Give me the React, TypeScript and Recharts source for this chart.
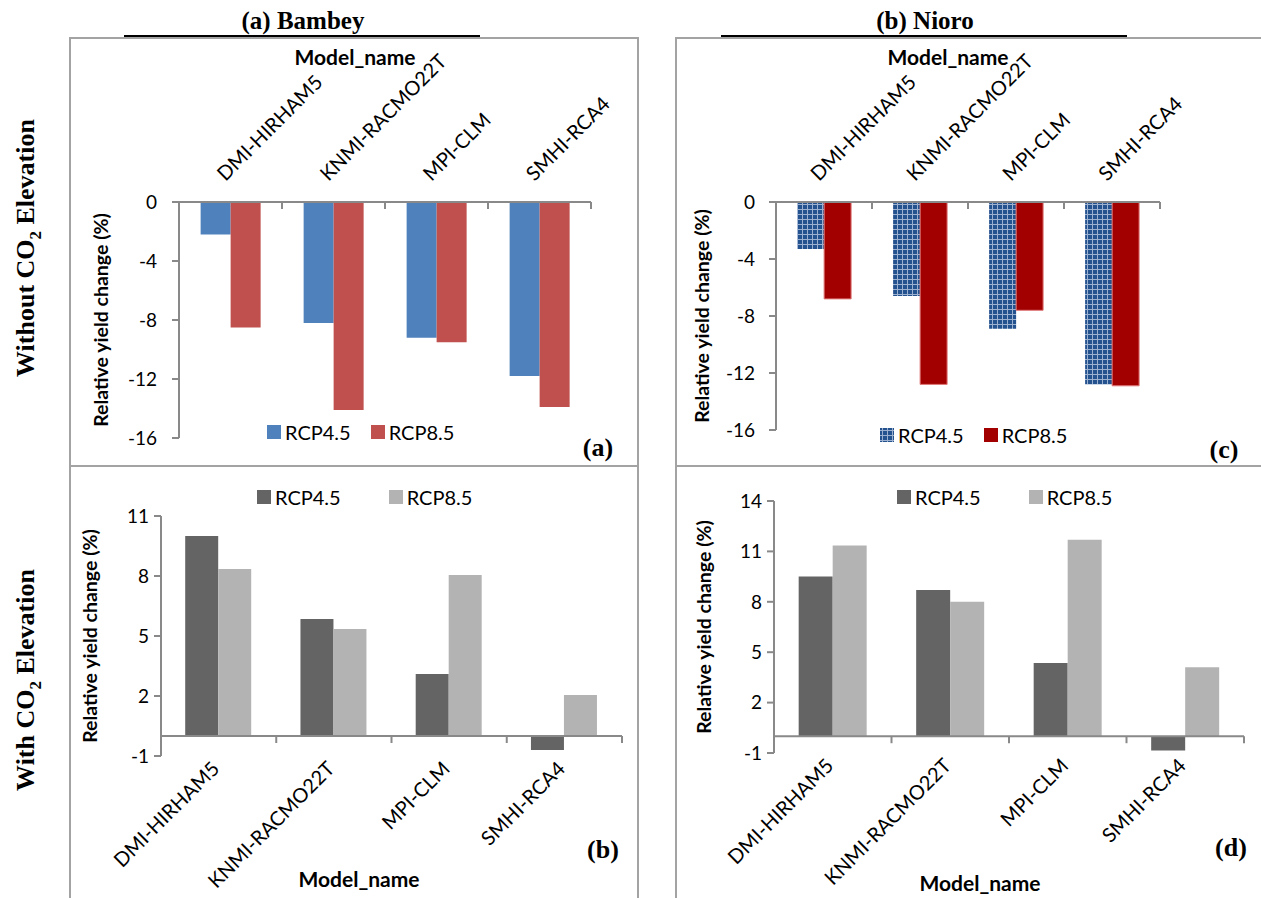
import { BarChart, Bar, XAxis, YAxis, Legend, ReferenceLine } from 'recharts';

const MODELS = ['DMI-HIRHAM5', 'KNMI-RACMO22T', 'MPI-CLM', 'SMHI-RCA4'];

// relative yield change (%), without CO2 fertilisation
const BAMBEY_NOCO2_45 = [-2.2, -8.2, -9.2, -11.8];
const BAMBEY_NOCO2_85 = [-8.5, -14.1, -9.5, -13.9];
const NIORO_NOCO2_45 = [-3.3, -6.6, -8.9, -12.8];
const NIORO_NOCO2_85 = [-6.8, -12.8, -7.6, -12.9];

// relative yield change (%), with elevated CO2
const BAMBEY_CO2_45 = [10.0, 5.85, 3.1, -0.7];
const BAMBEY_CO2_85 = [8.35, 5.35, 8.05, 2.05];
const NIORO_CO2_45 = [9.5, 8.7, 4.35, -0.85];
const NIORO_CO2_85 = [11.35, 8.0, 11.7, 4.1];

const TICKS_NOCO2 = [0, -4, -8, -12, -16];
const TICKS_BAMBEY_CO2 = [-1, 2, 5, 8, 11];
const TICKS_NIORO_CO2 = [-1, 2, 5, 8, 11, 14];

const SERIES = ['RCP4.5', 'RCP8.5'];

const AXIS = '#898989';
const BORDER = '#a3a3a3';
const SANS = 'Lato, "Open Sans", sans-serif';
const SERIF = '"Liberation Serif", "Times New Roman", serif';

type Panel = {
  id: string;
  left: number;
  top: number;
  width: number;
  height: number;
  axisW: number;
  xAxisH: number;
  side: 'top' | 'bottom';
  margin: { top: number; right: number; bottom: number; left: number };
  domain: [number, number];
  ticks: number[];
  rcp45: number[];
  rcp85: number[];
  fill45: string;
  fill85: string;
  stroke85?: string;
  catGap: string;
  tickGap: number;
  labelX: number;
  legendX: number;
  legendY: number;
  legendGap: number;
};

const PANELS: Panel[] = [
  {
    id: 'a', left: 69, top: 37, width: 568, height: 428, axisW: 110, xAxisH: 165, side: 'top',
    margin: { top: 0, right: 46, bottom: 27, left: 0 },
    domain: [-16, 0], ticks: TICKS_NOCO2, rcp45: BAMBEY_NOCO2_45, rcp85: BAMBEY_NOCO2_85,
    fill45: '#4f81bd', fill85: '#c0504d', catGap: '21%', tickGap: 15,
    labelX: 31, legendX: 198, legendY: 383, legendGap: 20,
  },
  {
    id: 'c', left: 675, top: 37, width: 586, height: 428, axisW: 101, xAxisH: 165, side: 'top',
    margin: { top: 0, right: 101, bottom: 35, left: 0 },
    domain: [-16, 0], ticks: TICKS_NOCO2, rcp45: NIORO_NOCO2_45, rcp85: NIORO_NOCO2_85,
    fill45: 'url(#weave45)', fill85: '#a20000', stroke85: '#e07a7a', catGap: '22%', tickGap: 14,
    labelX: 26, legendX: 205, legendY: 386, legendGap: 20,
  },
  {
    id: 'b', left: 69, top: 465, width: 568, height: 433, axisW: 92, xAxisH: 142, side: 'bottom',
    margin: { top: 51, right: 15, bottom: 0, left: 0 },
    domain: [-1, 11], ticks: TICKS_BAMBEY_CO2, rcp45: BAMBEY_CO2_45, rcp85: BAMBEY_CO2_85,
    fill45: '#646464', fill85: '#b3b3b3', catGap: '21%', tickGap: 5,
    labelX: 20, legendX: 188, legendY: 20, legendGap: 48,
  },
  {
    id: 'd', left: 675, top: 465, width: 586, height: 433, axisW: 99, xAxisH: 145, side: 'bottom',
    margin: { top: 36, right: 17, bottom: 0, left: 0 },
    domain: [-1, 14], ticks: TICKS_NIORO_CO2, rcp45: NIORO_CO2_45, rcp85: NIORO_CO2_85,
    fill45: '#646464', fill85: '#b3b3b3', catGap: '21%', tickGap: 5,
    labelX: 28, legendX: 222, legendY: 20, legendGap: 48,
  },
];

function geometry(p: Panel) {
  const plotW = p.width - p.margin.left - p.margin.right - p.axisW;
  const plotH = p.height - p.margin.top - p.margin.bottom - p.xAxisH;
  const plotTop = p.margin.top + (p.side === 'top' ? p.xAxisH : 0);
  const [lo, hi] = p.domain;
  return {
    band: plotW / MODELS.length,
    plotTop,
    plotH,
    plotBottom: plotTop + plotH,
    zeroY: plotTop + (hi / (hi - lo)) * plotH,
  };
}

// category labels at 45°, plus the tick mark on the right edge of each category
function makeModelTick(p: Panel) {
  const g = geometry(p);
  return (props: any) => {
    const { x, payload } = props;
    const edge = x + g.band / 2;
    const top = p.side === 'top';
    const tx = top ? x - 5 : x + 2;
    const ty = top ? g.plotTop - 20 : g.plotBottom + 14;
    return (
      <g>
        <line x1={edge} x2={edge} y1={g.zeroY} y2={g.zeroY + 7} stroke={AXIS} strokeWidth={2} />
        <text
          x={tx}
          y={ty}
          textAnchor={top ? 'start' : 'end'}
          transform={`rotate(-45 ${tx} ${ty})`}
          fontFamily={SANS}
          fontSize={20}
          fill="#000"
        >
          {payload.value}
        </text>
      </g>
    );
  };
}

function YieldPanel({ p }: { p: Panel }) {
  const g = geometry(p);
  const data = MODELS.map((model, i) => ({ model, rcp45: p.rcp45[i], rcp85: p.rcp85[i] }));
  const cy = g.plotTop + g.plotH / 2;

  return (
    <div style={{ position: 'absolute', left: p.left, top: p.top }}>
      <BarChart width={p.width} height={p.height} data={data} margin={p.margin} barGap={0} barCategoryGap={p.catGap}>
        <defs>
          <pattern id="weave45" width={5} height={5} patternUnits="userSpaceOnUse">
            <rect width={5} height={5} fill="#24528f" />
            <path d="M0 2.5H5M2.5 0V5" stroke="#9cb1d0" strokeWidth={1} />
          </pattern>
        </defs>
        <XAxis
          dataKey="model"
          orientation={p.side}
          height={p.xAxisH}
          interval={0}
          axisLine={p.side === 'top' ? { stroke: AXIS, strokeWidth: 2 } : false}
          tickLine={false}
          tick={makeModelTick(p)}
        />
        <YAxis
          type="number"
          width={p.axisW}
          domain={p.domain}
          ticks={p.ticks}
          interval={0}
          axisLine={{ stroke: AXIS, strokeWidth: 2 }}
          tickLine={{ stroke: AXIS, strokeWidth: 2 }}
          tickSize={7}
          tickMargin={p.tickGap}
          tick={{ fill: '#000', fontSize: 19, fontFamily: SANS }}
          label={{
            content: () => (
              <text
                x={p.labelX}
                y={cy}
                transform={`rotate(-90 ${p.labelX} ${cy})`}
                textAnchor="middle"
                dominantBaseline="central"
                fontFamily={SANS}
                fontWeight={700}
                fontSize={19.5}
                fill="#000"
              >
                Relative yield change (%)
              </text>
            ),
          }}
        />
        {p.side === 'bottom' && <ReferenceLine y={0} stroke={AXIS} strokeWidth={2} />}
        <Bar dataKey="rcp45" name={SERIES[0]} fill={p.fill45} isAnimationActive={false} />
        <Bar
          dataKey="rcp85"
          name={SERIES[1]}
          fill={p.fill85}
          stroke={p.stroke85 ?? 'none'}
          strokeWidth={p.stroke85 ? 1 : 0}
          isAnimationActive={false}
        />
        <Legend
          layout="horizontal"
          verticalAlign="middle"
          align="center"
          wrapperStyle={{ left: p.legendX, top: p.legendY, width: 'auto' }}
          content={({ payload }: any) => (
            <div
              style={{
                display: 'flex',
                alignItems: 'center',
                fontFamily: SANS,
                fontSize: 20,
                lineHeight: '24px',
                color: '#000',
                whiteSpace: 'nowrap',
              }}
            >
              {(payload ?? []).map((entry: any, i: number) => (
                <span
                  key={String(entry.value)}
                  style={{ display: 'inline-flex', alignItems: 'center', marginLeft: i ? p.legendGap : 0 }}
                >
                  <svg width={14} height={14} style={{ marginRight: 4 }}>
                    <rect width={14} height={14} fill={i ? p.fill85 : p.fill45} />
                  </svg>
                  {entry.value}
                </span>
              ))}
            </div>
          )}
        />
      </BarChart>
    </div>
  );
}

function Caption({
  x, y, children, font = SANS, size = 18, rotate = 0,
}: {
  x: number; y: number; children: React.ReactNode; font?: string; size?: number; rotate?: number;
}) {
  return (
    <div
      style={{
        position: 'absolute',
        left: x,
        top: y,
        transform: `translate(-50%, -50%) rotate(${rotate}deg)`,
        fontFamily: font,
        fontSize: size,
        fontWeight: 700,
        whiteSpace: 'nowrap',
        lineHeight: 1,
        color: '#000',
      }}
    >
      {children}
    </div>
  );
}

export default function App() {
  return (
    <div
      style={{
        position: 'absolute',
        left: 0,
        top: 0,
        width: 1261,
        height: 898,
        overflow: 'hidden',
        background: '#fff',
      }}
    >
      {/* panel frames */}
      <div style={{ position: 'absolute', left: 69, top: 37, width: 566, height: 426, border: `2px solid ${BORDER}` }} />
      <div style={{ position: 'absolute', left: 69, top: 465, width: 566, height: 440, border: `2px solid ${BORDER}` }} />
      <div style={{ position: 'absolute', left: 675, top: 37, width: 600, height: 426, border: `2px solid ${BORDER}` }} />
      <div style={{ position: 'absolute', left: 675, top: 465, width: 600, height: 440, border: `2px solid ${BORDER}` }} />

      {PANELS.map((p) => (
        <YieldPanel key={p.id} p={p} />
      ))}

      {/* site titles */}
      <div style={{ position: 'absolute', left: 124, top: 35, width: 356, height: 2, background: '#000' }} />
      <div style={{ position: 'absolute', left: 721, top: 35, width: 406, height: 2, background: '#000' }} />
      <Caption x={303} y={20} font={SERIF} size={25}>(a) Bambey</Caption>
      <Caption x={925} y={20} font={SERIF} size={25}>(b) Nioro</Caption>

      {/* row labels */}
      <Caption x={29} y={248} font={SERIF} size={26} rotate={-90}>
        Without CO<sub style={{ fontSize: '0.65em' }}>2</sub> Elevation
      </Caption>
      <Caption x={29} y={680} font={SERIF} size={26} rotate={-90}>
        With CO<sub style={{ fontSize: '0.65em' }}>2</sub> Elevation
      </Caption>

      {/* axis titles */}
      <Caption x={355} y={56} size={21}>Model_name</Caption>
      <Caption x={948} y={56} size={21}>Model_name</Caption>
      <Caption x={359} y={878} size={21}>Model_name</Caption>
      <Caption x={980} y={882} size={21}>Model_name</Caption>

      {/* panel tags */}
      <Caption x={598} y={448} font={SERIF} size={26}>(a)</Caption>
      <Caption x={1224} y={450} font={SERIF} size={26}>(c)</Caption>
      <Caption x={603} y={850} font={SERIF} size={26}>(b)</Caption>
      <Caption x={1231} y={848} font={SERIF} size={26}>(d)</Caption>
    </div>
  );
}
